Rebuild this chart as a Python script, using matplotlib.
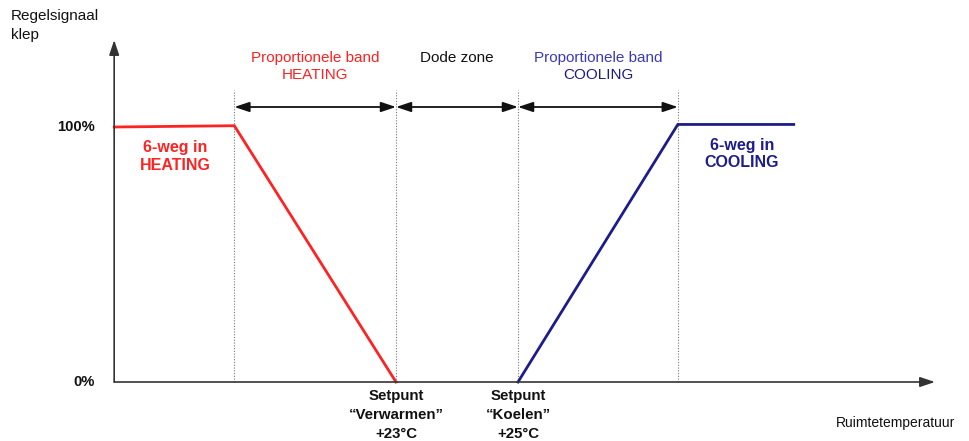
import matplotlib
matplotlib.use("Agg")
import matplotlib.pyplot as plt

plt.rcParams['font.family'] = ['Liberation Sans', 'DejaVu Sans']

# Data (x in °C, y in % valve signal)
heat_x = [18.38, 20.35, 23.0]
heat_y = [100, 100.5, 0]
cool_x = [25.0, 27.62, 29.52]
cool_y = [0, 101, 101]
boundaries = [20.35, 23.0, 25.0, 27.62]
setpoint_labels = [["Setpunt", "\u201cVerwarmen\u201d", "+23\u00b0C"],
                   ["Setpunt", "\u201cKoelen\u201d", "+25\u00b0C"]]
setpoint_x = [23.0, 25.0]
ytick_vals = [0, 100]
ytick_labels = ["0%", "100%"]

RED = "#ff2222"
NAVY = "#1c1c8a"
BLUE_LIGHT = "#3a3ab4"

fig = plt.figure(figsize=(9.70, 4.41), dpi=100)
ax = fig.add_axes([0, 0, 1, 1])
# 1 °C = 61 px, 1 % = 2.55 px
PX_X = 61.0
PX_Y = 2.55
x0 = 23 - 396 / PX_X
x1 = 23 + (970 - 396) / PX_X
y0 = -(441 - 382) / PX_Y
y1 = 382 / PX_Y
ax.set_xlim(x0, x1)
ax.set_ylim(y0, y1)
ax.axis('off')


def X(px):
    return 23 + (px - 396) / PX_X


def Y(py):
    return (382 - py) / PX_Y


ax_x0 = 18.38
ax_xend = X(935)
ax_ytop = Y(40)

axis_col = "#333333"
ax.annotate("", xy=(ax_xend, 0), xytext=(ax_x0, 0),
            arrowprops=dict(arrowstyle="-|>,head_length=0.9,head_width=0.3",
                            color=axis_col, lw=1.2, shrinkA=0, shrinkB=0))
ax.annotate("", xy=(ax_x0, ax_ytop), xytext=(ax_x0, 0),
            arrowprops=dict(arrowstyle="-|>,head_length=0.9,head_width=0.3",
                            color=axis_col, lw=1.2, shrinkA=0, shrinkB=0))

# dotted boundaries
top_dotted = Y(90)
for bx in boundaries:
    ax.plot([bx, bx], [0, top_dotted], color="#777777", lw=0.8,
            linestyle=(0, (1, 1.5)))

# curves
ax.plot(heat_x, heat_y, color=RED, lw=2, solid_joinstyle='miter')
ax.plot(cool_x, cool_y, color=NAVY, lw=2, solid_joinstyle='miter')

# double arrows
arr_y = Y(107)
for a, b in zip(boundaries[:-1], boundaries[1:]):
    ax.annotate("", xy=(b, arr_y), xytext=(a, arr_y),
                arrowprops=dict(arrowstyle="<|-|>,head_length=0.9,head_width=0.3",
                                color="#111111", lw=1.3, shrinkA=0, shrinkB=0))

# band labels
ly1 = Y(58)
ly2 = Y(75)
fs = 11
ax.text((boundaries[0] + boundaries[1]) / 2, ly1, "Proportionele band",
        color=RED, fontsize=fs, ha='center', va='center')
ax.text((boundaries[0] + boundaries[1]) / 2, ly2, "HEATING",
        color=RED, fontsize=fs, ha='center', va='center')
ax.text((boundaries[1] + boundaries[2]) / 2, ly1, "Dode zone",
        color="#111111", fontsize=fs, ha='center', va='center')
ax.text((boundaries[2] + boundaries[3]) / 2, ly1, "Proportionele band",
        color=BLUE_LIGHT, fontsize=fs, ha='center', va='center')
ax.text((boundaries[2] + boundaries[3]) / 2, ly2, "COOLING",
        color=NAVY, fontsize=fs, ha='center', va='center')

# mode labels
fsb = 11.5
ax.text(X(175), Y(148), "6-weg in", color=RED, fontsize=fsb,
        fontweight='bold', ha='center', va='center')
ax.text(X(175), Y(166), "HEATING", color=RED, fontsize=fsb,
        fontweight='bold', ha='center', va='center')
ax.text(X(742), Y(146), "6-weg in", color=NAVY, fontsize=fsb,
        fontweight='bold', ha='center', va='center')
ax.text(X(742), Y(163), "COOLING", color=NAVY, fontsize=fsb,
        fontweight='bold', ha='center', va='center')

# y tick labels
for v, lab in zip(ytick_vals, ytick_labels):
    ax.text(X(95), v, lab, fontsize=10.6, fontweight='bold',
            ha='right', va='center', color="#111111")

# y label
ax.text(X(11), Y(16), "Regelsignaal", fontsize=11, ha='left',
        va='center', color="#111111")
ax.text(X(11), Y(35), "klep", fontsize=11, ha='left',
        va='center', color="#111111")

# setpoint labels
for sx, lines in zip(setpoint_x, setpoint_labels):
    for i, line in enumerate(lines):
        ax.text(sx, Y(396 + 19 * i), line, fontsize=10.8, fontweight='bold',
                ha='center', va='center', color="#111111")

# x label
ax.text(X(896), Y(423), "Ruimtetemperatuur",
        fontsize=10, ha='center', va='center', color="#111111")

fig.savefig("out.png", dpi=100)
